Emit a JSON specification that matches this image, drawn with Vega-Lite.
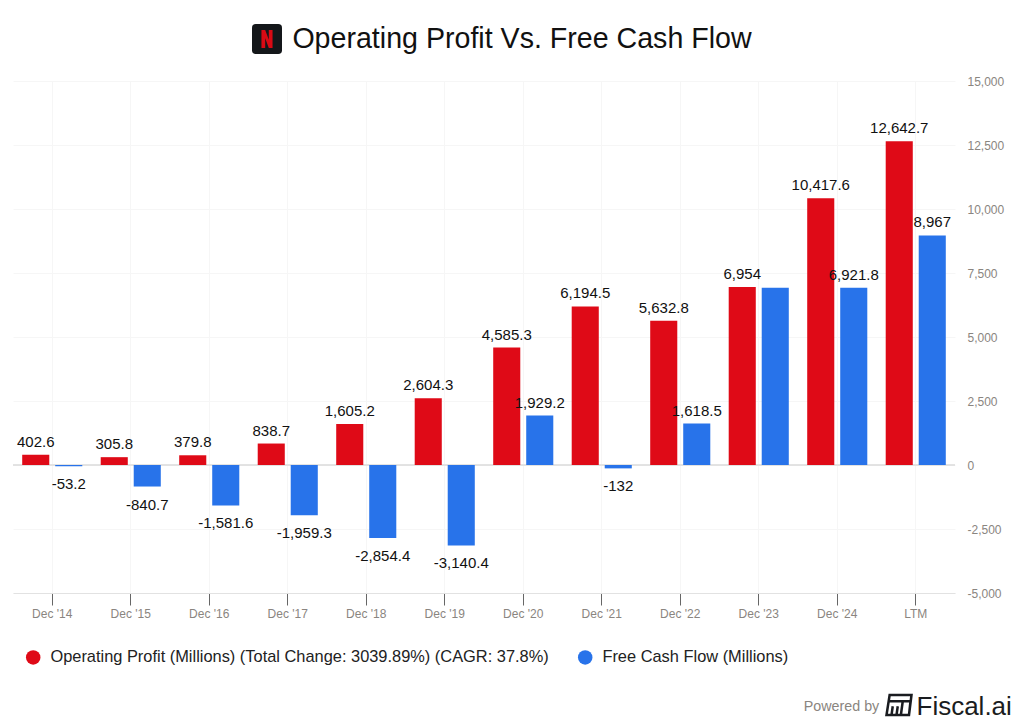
{"$schema":"https://vega.github.io/schema/vega-lite/v6.json","width":942,"height":512,"autosize":{"type":"none"},"padding":{"left":13,"top":81,"right":69,"bottom":133},"background":"white","config":{"font":"Liberation Sans","view":{"stroke":null}},"title":{"text":"Operating Profit Vs. Free Cash Flow","font":"Liberation Sans","fontSize":28.6,"fontWeight":"normal","color":"#111111","anchor":"middle","frame":"group","dx":38,"dy":30,"offset":0},"datasets":{"rows":[{"period":"Dec '14","series":"Operating Profit (Millions) (Total Change: 3039.89%) (CAGR: 37.8%)","value":402.6,"label":"402.6"},{"period":"Dec '14","series":"Free Cash Flow (Millions)","value":-53.2,"label":"-53.2"},{"period":"Dec '15","series":"Operating Profit (Millions) (Total Change: 3039.89%) (CAGR: 37.8%)","value":305.8,"label":"305.8"},{"period":"Dec '15","series":"Free Cash Flow (Millions)","value":-840.7,"label":"-840.7"},{"period":"Dec '16","series":"Operating Profit (Millions) (Total Change: 3039.89%) (CAGR: 37.8%)","value":379.8,"label":"379.8"},{"period":"Dec '16","series":"Free Cash Flow (Millions)","value":-1581.6,"label":"-1,581.6"},{"period":"Dec '17","series":"Operating Profit (Millions) (Total Change: 3039.89%) (CAGR: 37.8%)","value":838.7,"label":"838.7"},{"period":"Dec '17","series":"Free Cash Flow (Millions)","value":-1959.3,"label":"-1,959.3"},{"period":"Dec '18","series":"Operating Profit (Millions) (Total Change: 3039.89%) (CAGR: 37.8%)","value":1605.2,"label":"1,605.2"},{"period":"Dec '18","series":"Free Cash Flow (Millions)","value":-2854.4,"label":"-2,854.4"},{"period":"Dec '19","series":"Operating Profit (Millions) (Total Change: 3039.89%) (CAGR: 37.8%)","value":2604.3,"label":"2,604.3"},{"period":"Dec '19","series":"Free Cash Flow (Millions)","value":-3140.4,"label":"-3,140.4"},{"period":"Dec '20","series":"Operating Profit (Millions) (Total Change: 3039.89%) (CAGR: 37.8%)","value":4585.3,"label":"4,585.3"},{"period":"Dec '20","series":"Free Cash Flow (Millions)","value":1929.2,"label":"1,929.2"},{"period":"Dec '21","series":"Operating Profit (Millions) (Total Change: 3039.89%) (CAGR: 37.8%)","value":6194.5,"label":"6,194.5"},{"period":"Dec '21","series":"Free Cash Flow (Millions)","value":-132,"label":"-132"},{"period":"Dec '22","series":"Operating Profit (Millions) (Total Change: 3039.89%) (CAGR: 37.8%)","value":5632.8,"label":"5,632.8"},{"period":"Dec '22","series":"Free Cash Flow (Millions)","value":1618.5,"label":"1,618.5"},{"period":"Dec '23","series":"Operating Profit (Millions) (Total Change: 3039.89%) (CAGR: 37.8%)","value":6954,"label":"6,954"},{"period":"Dec '23","series":"Free Cash Flow (Millions)","value":6926,"label":""},{"period":"Dec '24","series":"Operating Profit (Millions) (Total Change: 3039.89%) (CAGR: 37.8%)","value":10417.6,"label":"10,417.6"},{"period":"Dec '24","series":"Free Cash Flow (Millions)","value":6921.8,"label":"6,921.8"},{"period":"LTM","series":"Operating Profit (Millions) (Total Change: 3039.89%) (CAGR: 37.8%)","value":12642.7,"label":"12,642.7"},{"period":"LTM","series":"Free Cash Flow (Millions)","value":8967,"label":"8,967"}]},"data":{"name":"rows"},"encoding":{"x":{"field":"period","type":"nominal","sort":null,"scale":{"paddingInner":0,"paddingOuter":0},"axis":{"title":"Powered by","titleFont":"Liberation Sans","titleFontSize":14.3,"titleFontWeight":"normal","titleColor":"#8a8580","titleX":828,"titleY":113,"titleBaseline":"middle","labelAngle":0,"labelFontSize":12,"labelColor":"#8a8580","labelPadding":3,"tickColor":"#666666","tickSize":12,"tickWidth":1,"domainColor":"#e2e2e2","grid":true,"gridColor":"#f6f6f6","gridWidth":1}},"y":{"field":"value","type":"quantitative","scale":{"domain":[-5000,15000],"nice":false},"axis":{"orient":"right","title":"Fiscal.ai","titleFont":"Liberation Sans","titleFontSize":26,"titleFontWeight":"normal","titleColor":"#1a1c20","titleAngle":0,"titleX":-39,"titleY":625,"titleAlign":"left","titleBaseline":"middle","values":[-5000,-2500,0,2500,5000,7500,10000,12500,15000],"format":",.0f","labelExpr":"replace(datum.label,'−','-')","labelFontSize":12,"labelColor":"#8a8580","labelPadding":12,"ticks":false,"domain":false,"grid":true,"gridColor":"#f6f6f6","gridWidth":1}}},"layer":[{"mark":{"type":"rule","color":"#e2e2e2","strokeWidth":1},"encoding":{"x":{},"y":{"datum":0}}},{"mark":{"type":"bar"},"encoding":{"xOffset":{"field":"series","type":"nominal","sort":null,"scale":{"paddingInner":0.18,"paddingOuter":0.279}},"color":{"field":"series","type":"nominal","sort":null,"scale":{"domain":["Operating Profit (Millions) (Total Change: 3039.89%) (CAGR: 37.8%)","Free Cash Flow (Millions)"],"range":["#DF0A17","#2873EA"]},"legend":{"title":null,"orient":"none","direction":"horizontal","legendX":12,"legendY":568,"symbolType":"circle","symbolSize":210,"symbolStrokeWidth":0,"labelFontSize":16.4,"labelColor":"#222222","labelLimit":600,"labelOffset":9,"columnPadding":28,"padding":0}}}},{"transform":[{"filter":"datum.value>=0"}],"mark":{"type":"text","baseline":"alphabetic","dy":-8,"fontSize":15,"color":"#111111"},"encoding":{"xOffset":{"field":"series","type":"nominal","sort":null},"text":{"field":"label","type":"nominal"}}},{"transform":[{"filter":"datum.value<0"}],"mark":{"type":"text","baseline":"top","dy":11,"fontSize":15,"color":"#111111"},"encoding":{"xOffset":{"field":"series","type":"nominal","sort":null},"text":{"field":"label","type":"nominal"}}},{"data":{"values":[{"tile":"Netflix tile","letter":"Netflix N","mark":"Fiscal.ai mark"}]},"mark":{"type":"point","opacity":0},"encoding":{"x":{"value":0},"y":{"value":0},"shape":{"field":"tile","type":"nominal","scale":{"range":["M-0.75,-1 L0.75,-1 Q1,-1 1,-0.75 L1,0.75 Q1,1 0.75,1 L-0.75,1 Q-1,1 -1,0.75 L-1,-0.75 Q-1,-1 -0.75,-1 Z"]},"legend":{"title":null,"orient":"none","legendX":239,"legendY":-57,"symbolSize":900,"symbolFillColor":"#14171a","symbolStrokeWidth":0,"symbolOpacity":1,"labelExpr":"''","labelFontSize":1,"padding":0}},"fill":{"field":"letter","type":"nominal","scale":{"range":["#D90A14"]},"legend":{"title":null,"orient":"none","legendX":239,"legendY":-57,"symbolType":"M-0.37,-0.6 L-0.12,-0.6 L0.12,0.05 L0.12,-0.6 L0.37,-0.6 L0.37,0.6 L0.12,0.6 L-0.12,-0.05 L-0.12,0.6 L-0.37,0.6 Z","symbolSize":900,"symbolStrokeWidth":0,"symbolOpacity":1,"labelExpr":"''","labelFontSize":1,"padding":0}},"stroke":{"field":"mark","type":"nominal","scale":{"range":["#1a1c20"]},"legend":{"title":null,"orient":"none","legendX":872,"legendY":610,"symbolType":"M-0.75,-0.8 L1,-0.8 L0.8,0.8 L-1,0.8 Z M-0.82,-0.3 L0.92,-0.3 M-0.5,0.1 L-0.6,0.8 M-0.1,0.1 L-0.2,0.8 M0.3,-0.3 L0.15,0.8 L0.8,0.8 L0.92,-0.3 Z","symbolSize":625,"symbolStrokeWidth":2.5,"symbolFillColor":"transparent","symbolOpacity":1,"labelExpr":"''","labelFontSize":1,"padding":0}}}}]}
